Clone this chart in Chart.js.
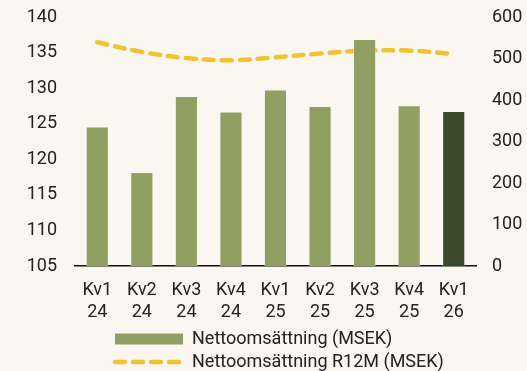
<!DOCTYPE html>
<html lang="sv">
<head>
<meta charset="utf-8">
<title>Nettoomsättning</title>
<script src="https://cdn.jsdelivr.net/npm/chart.js@4.4.1/dist/chart.umd.min.js"></script>
<style>
  html, body { margin: 0; padding: 0; background: #faf7f0; }
  #wrap { width: 527px; height: 371px; position: relative; }
</style>
</head>
<body>
<div id="wrap"><canvas id="chart-sales"></canvas></div>
<script>
// Kvartal
const quarters = [['Kv1', '24'], ['Kv2', '24'], ['Kv3', '24'], ['Kv4', '24'], ['Kv1', '25'],
  ['Kv2', '25'], ['Kv3', '25'], ['Kv4', '25'], ['Kv1', '26']];
// Nettoomsättning per kvartal (MSEK), vänster axel
const salesQuarter = [124.6, 118.2, 128.9, 126.7, 129.8, 127.5, 136.9, 127.6, 126.8];
// Nettoomsättning rullande 12 mån (MSEK), höger axel
const salesR12M = [539, 516, 501, 496, 503, 512, 519, 519, 511];

const GREEN = '#91a062';
const DARK_GREEN = '#3b4a2c';
const YELLOW = '#f1c232';
const TEXT = '#222222';

Chart.defaults.font.family = 'Roboto, sans-serif';
Chart.defaults.font.size = 18;
Chart.defaults.color = TEXT;

// put the legend block at a fixed left edge, rows left aligned
const legendOffset = {
  id: 'legendOffset',
  afterLayout(chart) {
    chart.legend.left = 110;
  }
};

// fixed axis sizes, no extra padding from tick labels
const fixAxis = (width, height) => scale => {
  if (width) scale.width = width;
  if (height) scale.height = height;
  scale.paddingTop = 0;
  scale.paddingBottom = 0;
  scale.paddingLeft = 0;
  scale.paddingRight = 0;
};

const barColors = salesQuarter.map((v, i) => i === salesQuarter.length - 1 ? DARK_GREEN : GREEN);

new Chart(document.getElementById('chart-sales'), {
  type: 'bar',
  data: {
    labels: quarters,
    datasets: [{
      label: 'Nettoomsättning (MSEK)',
      data: salesQuarter,
      backgroundColor: barColors,
      borderColor: 'rgba(255,255,255,0.35)',
      borderWidth: 1,
      barPercentage: 0.52,
      categoryPercentage: 1,
      yAxisID: 'y'
    }, {
      type: 'line',
      label: 'Nettoomsättning R12M (MSEK)',
      data: salesR12M,
      borderColor: YELLOW,
      backgroundColor: 'transparent',
      borderWidth: 4.5,
      borderDash: [10, 8],
      borderCapStyle: 'round',
      pointRadius: 0,
      tension: 0.4,
      yAxisID: 'y1'
    }]
  },
  options: {
    responsive: true,
    maintainAspectRatio: false,
    animation: false,
    layout: { padding: { top: 17, left: 26, right: 4, bottom: -10 } },
    plugins: {
      tooltip: { enabled: false },
      legend: {
        position: 'bottom',
        align: 'start',
        labels: {
          usePointStyle: true,
          pointStyleWidth: 68,
          boxHeight: 11,
          padding: 5,
          color: TEXT,
          sort: (a, b) => a.datasetIndex - b.datasetIndex,
          generateLabels(chart) {
            const items = Chart.defaults.plugins.legend.labels.generateLabels(chart);
            items.forEach(item => {
              if (item.datasetIndex === 0) {
                item.pointStyle = 'rect';
                item.fillStyle = GREEN;
                item.lineWidth = 0;
              } else {
                item.pointStyle = 'line';
                item.strokeStyle = YELLOW;
                item.lineWidth = 4.5;
                item.lineDash = [10, 8];
                item.lineCap = 'round';
              }
            });
            return items;
          }
        }
      }
    },
    scales: {
      x: {
        grid: { display: false, drawTicks: false },
        border: { display: true, color: '#111', width: 1.5 },
        ticks: { padding: 14, maxRotation: 0 },
        afterFit: fixAxis(0, 59)
      },
      y: {
        position: 'left',
        min: 105,
        max: 140,
        grid: { display: false, drawTicks: false },
        border: { display: false },
        ticks: { stepSize: 5, padding: 18 },
        afterFit: fixAxis(49, 0)
      },
      y1: {
        position: 'right',
        min: 0,
        max: 600,
        grid: { display: false, drawTicks: false },
        border: { display: false },
        ticks: { stepSize: 100, padding: 16 },
        afterFit: fixAxis(47, 0)
      }
    }
  },
  plugins: [legendOffset]
});
</script>
</body>
</html>
